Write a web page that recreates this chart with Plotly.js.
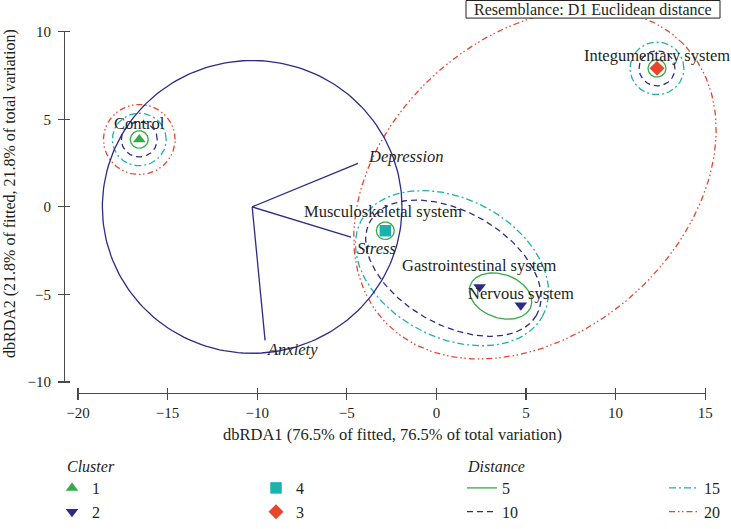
<!DOCTYPE html>
<html>
<head>
<meta charset="utf-8">
<script src="https://cdn.plot.ly/plotly-3.0.1.min.js"></script>
<style>
html,body{margin:0;padding:0;background:#fff;}
#chart{width:731px;height:529px;}
</style>
</head>
<body>
<div id="chart"></div>
<script>
// ---------------- data ----------------
const siteNames   = ['Control', 'Integumentary system', 'Musculoskeletal system', 'Gastrointestinal system', 'Nervous system'];
const siteX       = [-16.58, 12.31, -2.85, 2.41, 4.71];
const siteY       = [3.85, 7.91, -1.36, -4.57, -5.61];
const siteCluster = ['1', '3', '4', '2', '2'];
const clusterOrder = ['1', '2', '4', '3'];

const vectorNames = ['Depression', 'Stress', 'Anxiety'];
const vectorX = [-4.38, -4.77, -9.56];
const vectorY = [2.49, -1.73, -7.62];
const vectorOrigin = [-10.28, 0.0];
const vectorCircleRadius = 8.36;

const distanceLevels = ['5', '10', '15', '20'];
// distance contours: centre x, centre y, semi-axis a, semi-axis b, rotation (deg)
const d5CX  = [-16.58, 12.31, -2.85, 3.58];
const d5CY  = [3.85, 7.91, -1.36, -5.09];
const d5A   = [0.5, 0.5, 0.5, 1.80];
const d5B   = [0.5, 0.5, 0.5, 1.24];
const d5Rot = [0, 0, 0, -20.5];

const d10CX  = [-16.58, 12.31, 0.95];
const d10CY  = [3.85, 7.91, -3.50];
const d10A   = [1.0, 1.0, 5.36];
const d10B   = [1.0, 1.0, 3.22];
const d10Rot = [0, 0, -30.6];

const d15CX  = [-16.58, 12.31, 0.87];
const d15CY  = [3.85, 7.91, -3.50];
const d15A   = [1.5, 1.5, 5.75];
const d15B   = [1.5, 1.5, 3.95];
const d15Rot = [0, 0, -28.7];

const d20CX  = [-16.58, 5.5];
const d20CY  = [3.85, 1.32];
const d20A   = [2.0, 11.5];
const d20B   = [2.0, 8.37];
const d20Rot = [0, 44];

const xTicks = [-20, -15, -10, -5, 0, 5, 10, 15];
const yTicks = [-10, -5, 0, 5, 10];

const xTitle = 'dbRDA1 (76.5% of fitted, 76.5% of total variation)';
const yTitle = 'dbRDA2 (21.8% of fitted, 21.8% of total variation)';
const resemblanceText = 'Resemblance: D1 Euclidean distance';

// ---------------- styles ----------------
const FONT = '"Liberation Serif", "Times New Roman", serif';
const TXT = '#231f20';
const GREEN = '#35aa47', NAVY = '#2e2b86', TEAL = '#1bb2ad', RED = '#e8462b';
const AXC = '#4a4a4a';
const clusterStyle = {
  '1': {symbol: 'triangle-up', color: GREEN, size: 11},
  '2': {symbol: 'triangle-down', color: NAVY, size: 11},
  '3': {symbol: 'diamond', color: RED, size: 11.5},
  '4': {symbol: 'square', color: TEAL, size: 11.5}
};
const clusterLegend = {'1': 'legend', '2': 'legend', '4': 'legend2', '3': 'legend2'};
const distStyle = {
  '5':  {color: GREEN, dash: 'solid', legend: 'legend3'},
  '10': {color: NAVY, dash: '6px,4px', legend: 'legend3'},
  '15': {color: TEAL, dash: '7px,3px,2px,3px', legend: 'legend4'},
  '20': {color: RED, dash: '6px,3px,1.5px,2.5px,1.5px,3px', legend: 'legend4'}
};
const siteLabelShift = [[0, 16], [0, 12.7], [-2, 19.3], [0, 21.8], [0, 11.2]];
const vectorLabelShift = [[7.7, 7], [4, -10.8], [0, -8.7]];

// pixel geometry (figure is 731 x 529, zero margins)
const W = 731, H = 529, K = 17.92;       // px per data unit (equal aspect)
const PX_XM20 = 78, PX_Y10 = 32.5;      // pixel of x=-20 and y=10
const X_LINE_PX = 402, Y_LINE_PX = 64, HALF_TICK = 6;
const xDataRange = [-20 - PX_XM20 / K, -20 + (W - PX_XM20) / K];
const yDataRange = [10 - (H - PX_Y10) / K, 10 + PX_Y10 / K];
const px = v => (v - xDataRange[0]) * K;
const py = v => (yDataRange[1] - v) * K;

// ---------------- helpers ----------------
function ellipsePath(cx, cy, a, b, rotDeg, xs, ys) {
  const t = rotDeg * Math.PI / 180, n = 200;
  for (let i = 0; i <= n; i++) {
    const ang = 2 * Math.PI * i / n;
    const ex = a * Math.cos(ang), ey = b * Math.sin(ang);
    xs.push(cx + ex * Math.cos(t) - ey * Math.sin(t));
    ys.push(cy + ex * Math.sin(t) + ey * Math.cos(t));
  }
  xs.push(null); ys.push(null);
}
const levelData = {
  '5':  [d5CX, d5CY, d5A, d5B, d5Rot],
  '10': [d10CX, d10CY, d10A, d10B, d10Rot],
  '15': [d15CX, d15CY, d15A, d15B, d15Rot],
  '20': [d20CX, d20CY, d20A, d20B, d20Rot]
};

const traces = [];
// distance contours
distanceLevels.forEach(lv => {
  const [cx, cy, a, b, r] = levelData[lv];
  const xs = [], ys = [];
  cx.forEach((_, i) => ellipsePath(cx[i], cy[i], a[i], b[i], r[i], xs, ys));
  const st = distStyle[lv];
  traces.push({
    type: 'scatter', mode: 'lines', x: xs, y: ys, name: lv,
    line: {color: st.color, width: 1.3, dash: st.dash},
    legend: st.legend, showlegend: true, hoverinfo: 'skip', connectgaps: false
  });
});
// correlation circle and vectors
{
  const xs = [], ys = [];
  ellipsePath(vectorOrigin[0], vectorOrigin[1], vectorCircleRadius, vectorCircleRadius, 0, xs, ys);
  vectorX.forEach((vx, i) => { xs.push(vectorOrigin[0], vx, null); ys.push(vectorOrigin[1], vectorY[i], null); });
  traces.push({type: 'scatter', mode: 'lines', x: xs, y: ys, line: {color: NAVY, width: 1.3},
    showlegend: false, hoverinfo: 'skip'});
}
// site markers by cluster
clusterOrder.forEach(c => {
  const idx = siteCluster.map((v, i) => v === c ? i : -1).filter(i => i >= 0);
  const st = clusterStyle[c];
  traces.push({
    type: 'scatter', mode: 'markers', name: c,
    x: idx.map(i => siteX[i]), y: idx.map(i => siteY[i]),
    marker: {symbol: st.symbol, color: st.color, size: st.size, line: {width: 0}},
    legend: clusterLegend[c], showlegend: true, hoverinfo: 'skip'
  });
});
// placeholders so the display axes get drawn
traces.push({type: 'scatter', mode: 'markers', x: [null], y: [null], xaxis: 'x2', yaxis: 'y2', showlegend: false, hoverinfo: 'skip'});
traces.push({type: 'scatter', mode: 'markers', x: [null], y: [null], xaxis: 'x3', yaxis: 'y3', showlegend: false, hoverinfo: 'skip'});

// ---------------- annotations ----------------
const annotations = [];
siteNames.forEach((n, i) => annotations.push({
  x: siteX[i], y: siteY[i], xref: 'x', yref: 'y', text: n, showarrow: false,
  xanchor: 'center', yanchor: 'middle', xshift: siteLabelShift[i][0], yshift: siteLabelShift[i][1],
  font: {family: FONT, size: 16.5, color: TXT}
}));
vectorNames.forEach((n, i) => annotations.push({
  x: vectorX[i], y: vectorY[i], xref: 'x', yref: 'y', text: '<i>' + n + '</i>', showarrow: false,
  xanchor: 'left', yanchor: 'middle', xshift: vectorLabelShift[i][0], yshift: vectorLabelShift[i][1],
  font: {family: FONT, size: 16.5, color: TXT}
}));
annotations.push({x: 593 / W, y: (H - 9.5) / H, xref: 'paper', yref: 'paper', text: resemblanceText,
  showarrow: false, xanchor: 'center', yanchor: 'middle', font: {family: FONT, size: 16, color: TXT}});
annotations.push({x: 392 / W, y: (H - 445) / H, xref: 'paper', yref: 'paper', text: xTitle,
  showarrow: false, xanchor: 'center', yanchor: 'middle', font: {family: FONT, size: 16.5, color: TXT}});
annotations.push({x: 9.5 / W, y: (H - 198) / H, xref: 'paper', yref: 'paper', text: yTitle, textangle: -90,
  showarrow: false, xanchor: 'center', yanchor: 'middle', font: {family: FONT, size: 16, color: TXT}});
annotations.push({x: 65 / W, y: (H - 477) / H, xref: 'paper', yref: 'paper', text: '<i>Cluster</i>',
  showarrow: false, xanchor: 'left', yanchor: 'middle', font: {family: FONT, size: 16, color: TXT}});
annotations.push({x: 465 / W, y: (H - 477) / H, xref: 'paper', yref: 'paper', text: '<i>Distance</i>',
  showarrow: false, xanchor: 'left', yanchor: 'middle', font: {family: FONT, size: 16, color: TXT}});

// ---------------- layout ----------------
const legendBase = {yanchor: 'top', xanchor: 'left', y: (H - 482.2) / H, bgcolor: 'rgba(0,0,0,0)',
  borderwidth: 0, font: {family: FONT, size: 16, color: TXT}, orientation: 'v', tracegroupgap: 0};
const tickFont = {family: FONT, size: 15, color: TXT};
const xDom = [PX_XM20 / W, px(15) / W];
const yDom = [(H - py(-10)) / H, (H - py(10)) / H];
const common = {showgrid: false, zeroline: false, fixedrange: true};

const layout = {
  width: W, height: H,
  margin: {l: 0, r: 0, t: 0, b: 0, pad: 0},
  paper_bgcolor: '#ffffff', plot_bgcolor: 'rgba(0,0,0,0)',
  font: {family: FONT, color: TXT},
  xaxis: {domain: [0, 1], range: xDataRange, visible: false, fixedrange: true, anchor: 'y'},
  yaxis: {domain: [0, 1], range: yDataRange, visible: false, fixedrange: true, anchor: 'x'},
  // tick axes: ticks of length 2*HALF_TICK that cross the axis lines, plus tick labels
  xaxis2: Object.assign({}, common, {domain: xDom, range: [-20, 15], anchor: 'free',
    position: (H - (X_LINE_PX - HALF_TICK)) / H, showline: false, ticks: 'outside', ticklen: 2 * HALF_TICK,
    tickwidth: 1.2, tickcolor: AXC, tickmode: 'array', tickvals: xTicks, tickfont: tickFont}),
  yaxis2: Object.assign({}, common, {domain: yDom, range: [-10, 10], anchor: 'free',
    position: (Y_LINE_PX + HALF_TICK) / W, showline: false, ticks: 'outside', ticklen: 2 * HALF_TICK,
    tickwidth: 1.2, tickcolor: AXC, tickmode: 'array', tickvals: yTicks, tickfont: tickFont,
    ticklabelstandoff: 4}),
  // axis lines
  xaxis3: Object.assign({}, common, {domain: xDom, range: [-20, 15], anchor: 'free',
    position: (H - X_LINE_PX) / H, showline: true, linecolor: AXC, linewidth: 1.2, ticks: '',
    showticklabels: false}),
  yaxis3: Object.assign({}, common, {domain: yDom, range: [-10, 10], anchor: 'free',
    position: Y_LINE_PX / W, showline: true, linecolor: AXC, linewidth: 1.2, ticks: '',
    showticklabels: false}),
  legend:  Object.assign({}, legendBase, {x: 52 / W}),
  legend2: Object.assign({}, legendBase, {x: 256 / W}),
  legend3: Object.assign({}, legendBase, {x: 462 / W}),
  legend4: Object.assign({}, legendBase, {x: 664 / W}),
  shapes: [{type: 'rect', xref: 'paper', yref: 'paper', x0: 466 / W, x1: 720 / W, y0: (H - 18.5) / H, y1: (H - 0.5) / H,
    line: {color: TXT, width: 1}, fillcolor: '#ffffff', layer: 'above'}],
  annotations: annotations
};

Plotly.newPlot('chart', traces, layout, {staticPlot: true, displayModeBar: false});
</script>
</body>
</html>
